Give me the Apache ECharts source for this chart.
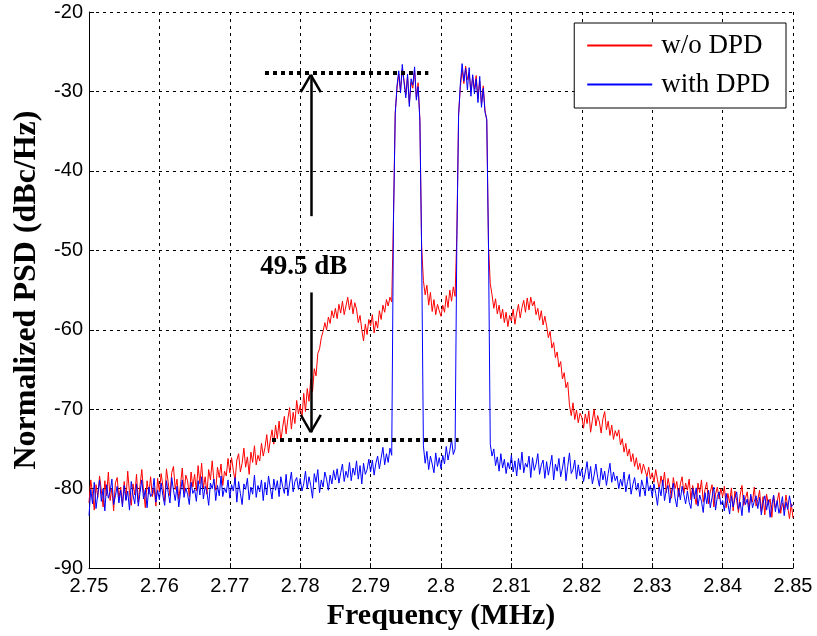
<!DOCTYPE html>
<html>
<head>
<meta charset="utf-8">
<script src="https://cdn.jsdelivr.net/npm/echarts@6/dist/echarts.min.js"></script>
<style>
html,body{margin:0;padding:0;background:#fff;}
#chart{width:817px;height:636px;}
</style>
</head>
<body>
<div id="chart"></div>
<script>
// Frequency grid (MHz): start and step of the sampled spectrum
const freqStart = 2.75;
const freqStep = 0.00025;

// PSD without DPD (dBc/Hz); each row covers 0.005 MHz
const psdNoDPD = [
  -81.8, -78.9, -80.6, -82.7, -79.5, -81.1, -78.4, -80.2, -82.3, -79.0, -80.9, -77.9, -81.5, -80.0, -82.8, -79.3, -78.6, -81.2, -79.8, -82.0,
  -79.1, -81.4, -77.8, -80.5, -82.1, -79.4, -80.8, -78.2, -81.7, -79.6, -77.6, -80.3, -82.4, -79.0, -80.7, -78.5, -81.0, -79.9, -82.2, -78.7,
  -80.4, -78.1, -79.7, -81.6, -77.5, -79.2, -80.9, -78.0, -77.2, -80.1, -78.8, -81.3, -79.5, -77.4, -80.6, -78.3, -79.0, -81.0, -77.9, -79.8,
  -78.2, -80.3, -77.1, -79.4, -76.8, -79.9, -78.5, -80.7, -77.6, -78.9, -76.5, -79.1, -80.2, -77.3, -78.6, -76.9, -79.6, -77.8, -78.4, -76.2,
  -78.0, -76.1, -77.7, -79.0, -76.4, -75.6, -77.9, -76.8, -74.9, -77.3, -76.0, -78.2, -75.4, -76.7, -74.6, -77.0, -75.8, -76.5, -74.3, -75.9,
  -74.8, -73.2, -75.5, -73.9, -72.6, -74.4, -72.0, -73.7, -71.5, -74.0, -72.3, -70.9, -73.1, -71.2, -69.8, -72.5, -70.4, -71.8, -68.9, -70.6,
  -69.5, -71.2, -68.0, -70.3, -67.4, -69.0, -66.2, -67.8, -64.9, -65.8, -63.0, -62.4, -61.0, -60.2, -59.1, -60.0, -58.4, -59.2, -57.6, -58.5,
  -57.3, -58.6, -56.8, -57.9, -56.4, -58.1, -57.0, -55.9, -57.5, -56.2, -58.0, -56.6, -57.4, -59.1, -58.2, -60.0, -61.4, -59.3, -60.6, -58.7,
  -59.5, -58.1, -60.4, -58.9, -59.8, -57.6, -58.7, -56.9, -57.8, -56.2, -57.0, -55.9, -56.5, -46.0, -32.6, -29.6, -27.8, -29.9, -27.2, -28.6,
  -30.4, -28.1, -31.5, -28.8, -29.6, -27.4, -30.8, -28.9, -33.6, -49.5, -53.8, -55.6, -54.4, -56.9, -55.3, -57.7, -56.2, -58.1, -56.8, -57.6,
  -58.3, -56.9, -57.8, -55.7, -57.2, -55.0, -56.4, -54.6, -55.8, -48.0, -32.8, -29.4, -27.3, -29.0, -26.8, -28.5, -27.6, -30.1, -28.2, -29.7,
  -28.0, -30.9, -28.7, -31.6, -29.3, -32.4, -33.6, -49.5, -54.2, -55.6, -57.3, -56.1, -58.0, -56.9, -58.6, -57.4, -59.1, -57.8, -59.6, -58.2,
  -58.9, -57.4, -59.3, -57.9, -56.8, -58.5, -57.2, -56.3, -57.8, -56.0, -57.5, -55.9, -57.0, -56.4, -58.1, -57.3, -58.8, -57.6, -59.4, -58.3,
  -59.5, -61.0, -60.2, -62.3, -61.6, -63.5, -62.8, -64.7, -64.0, -66.2, -65.4, -67.3, -66.6, -69.5, -70.8, -69.2, -71.3, -70.1, -71.7, -70.5,
  -71.0, -72.4, -70.6, -71.8, -70.2, -72.9, -71.4, -70.0, -72.1, -70.8, -71.6, -73.0, -71.2, -70.3, -72.6, -71.5, -73.3, -72.0, -73.8, -72.7,
  -73.4, -72.6, -74.5, -73.7, -75.4, -74.3, -75.9, -75.0, -76.6, -75.6, -77.2, -76.1, -77.6, -76.8, -78.1, -76.9, -77.7, -78.5, -77.3, -78.8,
  -78.0, -79.2, -77.6, -78.9, -80.1, -78.4, -79.6, -77.9, -80.5, -78.7, -79.8, -81.2, -78.6, -80.0, -79.1, -81.0, -79.4, -78.5, -80.6, -79.3,
  -80.2, -78.8, -81.4, -79.6, -80.8, -82.0, -79.3, -80.5, -78.9, -81.7, -80.1, -79.2, -81.9, -80.4, -79.5, -82.3, -80.7, -79.8, -81.3, -80.0,
  -81.0, -79.7, -82.4, -80.6, -81.8, -79.9, -82.8, -80.3, -81.5, -83.0, -80.8, -79.6, -82.1, -81.2, -80.4, -82.6, -80.9, -81.7, -79.8, -82.2,
  -81.4, -80.2, -82.9, -81.0, -83.3, -80.7, -82.0, -81.3, -83.6, -80.9, -82.4, -81.6, -80.5, -83.1, -81.8, -82.7, -80.8, -82.3, -83.8, -81.9,
  -83.7
];

// PSD with DPD (dBc/Hz); each row covers 0.005 MHz
const psdWithDPD = [
  -83.4, -80.1, -81.9, -79.2, -82.5, -80.7, -78.9, -81.6, -80.0, -82.8, -79.5, -81.2, -80.4, -78.8, -82.0, -80.9, -79.7, -81.8, -80.2, -82.3,
  -79.6, -81.5, -80.3, -82.7, -79.1, -80.8, -81.9, -79.4, -82.2, -80.5, -78.9, -81.3, -80.1, -82.4, -79.8, -81.0, -80.6, -78.7, -81.7, -80.2,
  -81.4, -79.3, -80.9, -82.1, -79.0, -80.5, -81.8, -78.6, -80.2, -81.5, -79.7, -82.3, -80.4, -78.9, -81.1, -79.9, -80.7, -82.0, -79.2, -80.6,
  -80.1, -81.6, -79.0, -80.8, -78.5, -81.3, -79.7, -80.4, -82.1, -79.3, -80.0, -78.8, -81.5, -79.6, -80.9, -78.4, -81.0, -79.9, -80.5, -78.9,
  -81.2, -79.5, -80.3, -78.6, -81.7, -79.1, -80.6, -82.0, -79.4, -80.1, -78.7, -81.4, -79.8, -80.7, -78.3, -81.1, -79.6, -80.4, -78.9, -81.5,
  -79.2, -80.8, -78.4, -79.9, -81.3, -78.8, -80.2, -79.0, -81.0, -78.5, -79.7, -80.6, -78.2, -80.9, -79.3, -77.9, -80.4, -79.1, -78.6, -80.1,
  -78.7, -80.3, -79.4, -77.8, -80.0, -78.5, -79.6, -81.2, -78.1, -79.2, -77.6, -80.5, -78.9, -79.8, -77.9, -78.8, -80.2, -78.3, -79.4, -77.7,
  -78.9, -77.5, -79.3, -78.0, -76.9, -79.1, -77.8, -78.6, -76.7, -79.0, -77.4, -78.3, -76.5, -78.8, -77.1, -79.4, -76.8, -78.2, -77.6, -76.3,
  -77.9, -76.4, -78.3, -76.8, -75.9, -77.5, -76.1, -74.8, -77.0, -75.6, -76.7, -74.9, -75.8, -46.2, -32.9, -29.3, -27.4, -30.2, -26.6, -28.9,
  -30.8, -27.8, -31.9, -28.4, -29.2, -26.9, -31.1, -29.4, -33.7, -50.0, -74.6, -76.8, -75.3, -77.6, -75.9, -76.9, -78.0, -75.5, -77.2, -76.1,
  -77.5, -75.8, -76.9, -74.7, -76.4, -75.2, -73.8, -75.7, -75.0, -49.0, -33.1, -29.0, -26.5, -28.7, -27.1, -29.8, -27.0, -30.6, -27.9, -30.3,
  -28.4, -31.4, -28.1, -32.0, -29.6, -32.6, -33.5, -49.8, -74.4, -75.9, -75.0, -77.1, -76.0, -77.8, -75.6, -77.4, -76.3, -78.1, -76.7, -77.5,
  -75.8, -77.9, -76.5, -78.4, -76.2, -77.6, -75.4, -78.0, -76.8, -77.3, -75.9, -78.6, -76.1, -77.7, -76.9, -75.6, -78.2, -77.0, -76.4, -78.7,
  -76.6, -78.3, -77.1, -75.8, -78.9, -76.9, -77.8, -76.2, -78.5, -77.4, -76.0, -79.0, -77.2, -75.5, -78.1, -77.6, -76.4, -78.8, -77.0, -78.4,
  -77.5, -79.1, -77.9, -76.6, -78.8, -77.2, -79.4, -78.3, -76.9, -78.6, -79.7, -77.4, -78.9, -77.8, -79.6, -78.1, -76.8, -79.2, -77.9, -79.0,
  -78.4, -80.0, -78.8, -79.7, -77.9, -80.4, -79.1, -78.2, -80.7, -79.5, -78.6, -80.2, -79.3, -81.0, -78.9, -79.8, -80.9, -78.5, -80.3, -79.6,
  -81.0, -79.4, -80.6, -82.1, -79.8, -80.9, -78.9, -81.5, -80.2, -79.6, -81.8, -80.4, -79.3, -81.2, -82.3, -80.0, -81.4, -79.7, -80.8, -81.9,
  -80.3, -81.7, -82.5, -80.0, -81.3, -79.9, -82.2, -80.8, -81.6, -83.0, -80.5, -81.9, -80.2, -82.4, -81.1, -79.8, -82.7, -81.0, -80.4, -82.0,
  -81.5, -82.8, -80.6, -81.9, -83.2, -80.9, -82.3, -81.2, -80.4, -82.6, -81.7, -83.4, -80.8, -82.0, -81.3, -83.0, -80.7, -82.4, -81.6, -80.9,
  -82.5, -81.1, -83.3, -81.8, -80.9, -82.7, -81.4, -83.6, -82.0, -80.8, -82.9, -81.5, -83.1, -82.2, -81.0, -83.4, -81.7, -82.6, -80.9, -82.3,
  -82.0
];

const seriesNames = ['w/o DPD', 'with DPD'];

// Annotation geometry in data units (MHz, dB)
const refTopLine = [[2.7750, -27.7], [2.7982, -27.7]];
const refBottomLine = [[2.7760, -73.8], [2.8025, -73.8]];
const arrowX = 2.7815;
const arrowUp = { from: -45.7, tip: -27.9, wing: -30.1 };
const arrowDown = { from: -55.3, tip: -72.9, wing: -70.7 };
const arrowWingDx = 0.00142;
const labelText = '49.5 dB';
const labelPos = [2.7805, -52.1];

const freq = psdNoDPD.map((_, i) => +(freqStart + i * freqStep).toFixed(5));
const pairs = (ys) => ys.map((y, i) => [freq[i], y]);

const dotted = { type: [4, 4], width: 4, color: '#000' };
const solid = { type: 'solid', width: 2.5, color: '#000' };
const seg = (a, b, style) => [{ coord: a, lineStyle: style }, { coord: b }];

const markLines = [
  seg(refTopLine[0], refTopLine[1], dotted),
  seg(refBottomLine[0], refBottomLine[1], dotted),
  seg([arrowX, arrowUp.from], [arrowX, arrowUp.tip], solid),
  seg([arrowX - arrowWingDx, arrowUp.wing], [arrowX, arrowUp.tip], solid),
  seg([arrowX + arrowWingDx, arrowUp.wing], [arrowX, arrowUp.tip], solid),
  seg([arrowX, arrowDown.from], [arrowX, arrowDown.tip], solid),
  seg([arrowX - arrowWingDx, arrowDown.wing], [arrowX, arrowDown.tip], solid),
  seg([arrowX + arrowWingDx, arrowDown.wing], [arrowX, arrowDown.tip], solid)
];

const chart = echarts.init(document.getElementById('chart'), null, { renderer: 'canvas' });
const sans = 'Arial, "Liberation Sans", Helvetica, sans-serif';
const serif = '"Times New Roman", "Liberation Serif", serif';

chart.setOption({
  animation: false,
  backgroundColor: '#fff',
  grid: { left: 89, right: 24, top: 12, bottom: 66, containLabel: false },
  legend: {
    data: seriesNames,
    orient: 'vertical',
    right: 31,
    top: 23,
    backgroundColor: '#fff',
    borderColor: '#000',
    borderWidth: 1,
    borderRadius: 0,
    padding: [9, 16, 10, 13],
    itemGap: 12,
    itemWidth: 65,
    itemHeight: 2,
    icon: 'rect',
    textStyle: { fontFamily: serif, fontSize: 27, color: '#000', padding: [0, 0, 0, 4] }
  },
  xAxis: {
    type: 'value',
    min: 2.75,
    max: 2.85,
    interval: 0.01,
    name: 'Frequency (MHz)',
    nameLocation: 'middle',
    nameGap: 30,
    nameTextStyle: { fontFamily: serif, fontSize: 30, fontWeight: 'bold', color: '#000' },
    axisLine: { show: true, onZero: false, lineStyle: { color: '#000', width: 1 } },
    axisTick: { show: true, inside: true, length: 5, lineStyle: { color: '#000' } },
    axisLabel: { fontFamily: sans, fontSize: 20, color: '#000', margin: 8,
      formatter: (v) => String(+v.toFixed(2)) },
    splitLine: { show: true, lineStyle: { color: '#000', type: [3, 4], width: 1 } }
  },
  yAxis: {
    type: 'value',
    min: -90,
    max: -20,
    interval: 10,
    name: 'Normalized PSD (dBc/Hz)',
    nameLocation: 'middle',
    nameGap: 46,
    nameTextStyle: { fontFamily: serif, fontSize: 32, fontWeight: 'bold', color: '#000' },
    axisLine: { show: true, onZero: false, lineStyle: { color: '#000', width: 1 } },
    axisTick: { show: true, inside: true, length: 5, lineStyle: { color: '#000' } },
    axisLabel: { fontFamily: sans, fontSize: 20, color: '#000', margin: 6 },
    splitLine: { show: true, lineStyle: { color: '#000', type: [3, 4], width: 1 } }
  },
  series: [
    {
      name: seriesNames[0],
      type: 'line',
      data: pairs(psdNoDPD),
      showSymbol: false,
      symbol: 'none',
      color: '#ff0000',
      lineStyle: { color: '#ff0000', width: 1 },
      z: 2
    },
    {
      name: seriesNames[1],
      type: 'line',
      data: pairs(psdWithDPD),
      showSymbol: false,
      symbol: 'none',
      color: '#0000ff',
      lineStyle: { color: '#0000ff', width: 1 },
      z: 3
    },
    {
      name: 'annotation',
      type: 'line',
      data: [],
      z: 4,
      markLine: {
        silent: true,
        symbol: ['none', 'none'],
        label: { show: false },
        animation: false,
        data: markLines
      },
      markPoint: {
        silent: true,
        symbol: 'rect',
        symbolSize: 1,
        itemStyle: { color: 'rgba(0,0,0,0)' },
        label: {
          show: true, position: 'inside', formatter: labelText,
          fontFamily: serif, fontSize: 27, fontWeight: 'bold', color: '#000'
        },
        data: [{ coord: labelPos }]
      }
    }
  ]
});
</script>
</body>
</html>
